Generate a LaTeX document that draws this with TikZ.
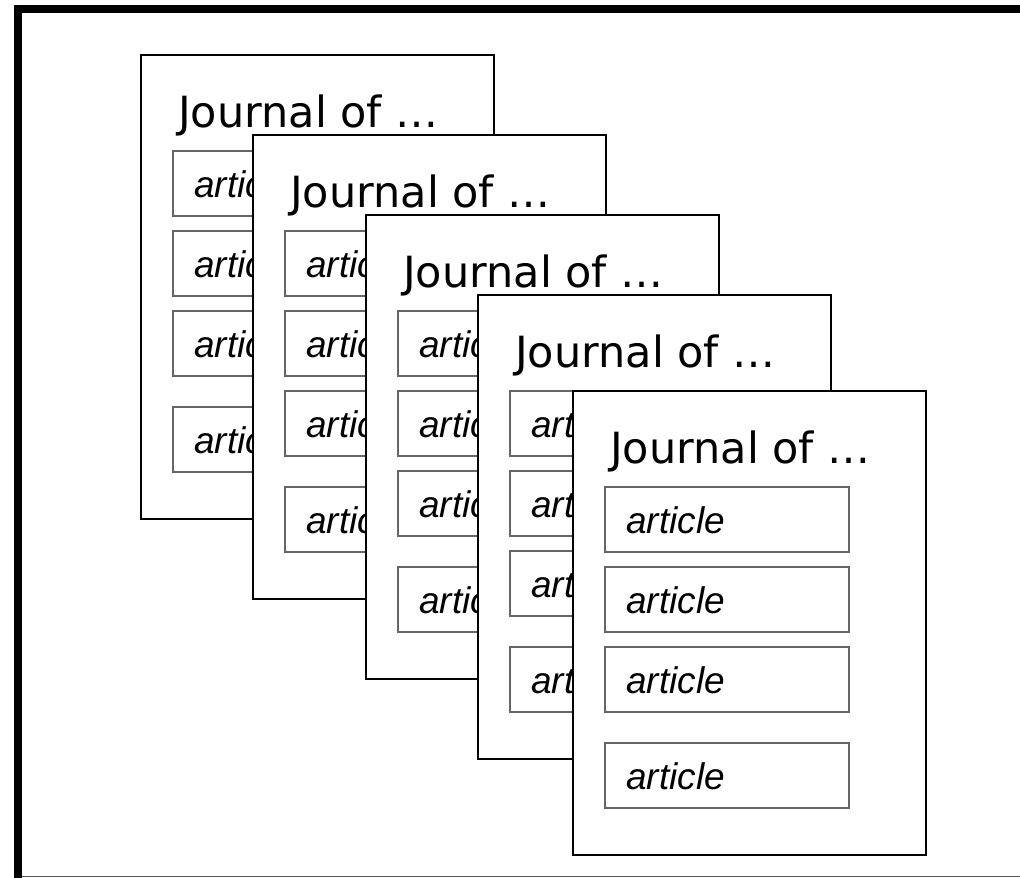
\documentclass[tikz,border=0pt]{standalone}
\usepackage{fontspec}
\setmainfont{DejaVu Sans}
\newfontfamily\artfont{Liberation Sans}
\begin{document}
\begin{tikzpicture}[x=1pt,y=-1pt,
 page/.style={draw=black, line width=2pt, fill=white, minimum width=353pt, minimum height=464pt, anchor=north west, inner sep=0pt, outer sep=0pt},
 artbox/.style={draw=black!60, line width=1.3pt, fill=white, minimum width=244pt, minimum height=65pt, anchor=north west, inner sep=0pt, outer sep=0pt},
 jtitle/.style={anchor=base west, inner sep=0pt, font=\fontsize{43}{50}\selectfont},
 arttext/.style={anchor=base west, inner sep=0pt, font=\artfont\itshape\fontsize{37}{42}\selectfont}]
\useasboundingbox (0,0) rectangle (1020,878);
% outer frame
\fill[black] (14,5) rectangle (22,878);
\fill[black] (14,5) rectangle (1020,13);
\draw[black!65, line width=1.5pt] (22,876.5) -- (1020,876.5);
% journals
\foreach \i/\px/\py in {1/141/55, 2/253/135, 3/366/215, 4/478/295, 5/573/391} {
  \node[page] (p\i) at (\px,\py) {};
  \node[jtitle] (t\i) at (\px+37,\py+72) {Journal of …};
  \foreach \j/\by in {1/96,2/176,3/256,4/352} {
    \node[artbox] (a\i\j) at (\px+32,\py+\by) {};
    \node[arttext] (at\i\j) at (\px+53,\py+\by+46) {article};
  }
}
\end{tikzpicture}
\end{document}
